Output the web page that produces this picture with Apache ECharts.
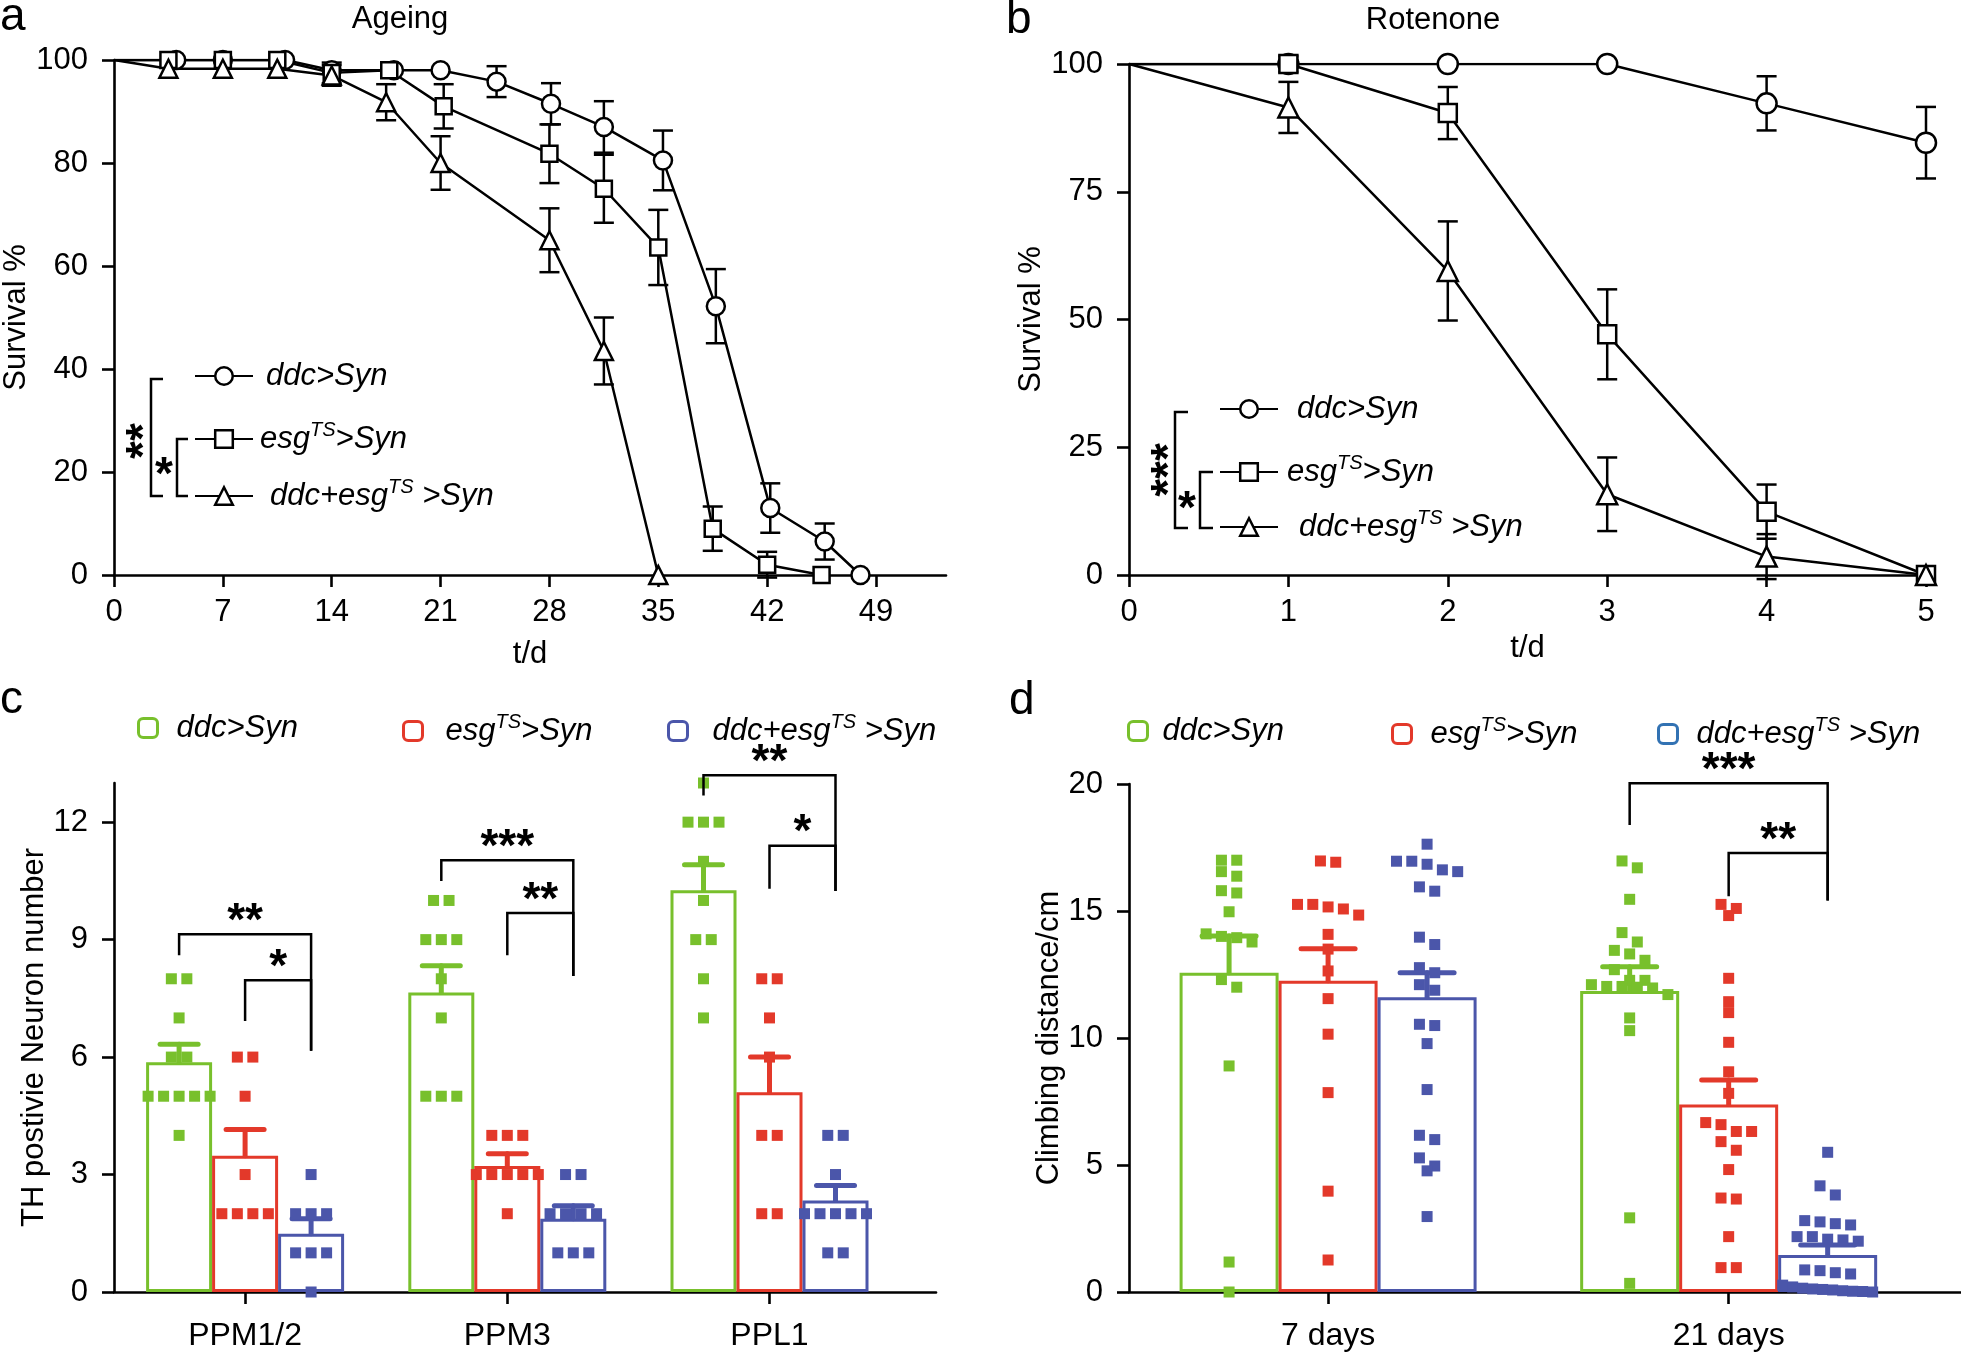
<!DOCTYPE html>
<html><head><meta charset="utf-8">
<script src="https://cdn.jsdelivr.net/npm/echarts@6/dist/echarts.min.js"></script>
<style>html,body{margin:0;padding:0;background:#fff}#chart{width:1961px;height:1352px}</style>
</head><body><div id="chart"></div>
<script>
// ---------------- Panel a: Ageing ----------------
const ageTicks = [0, 7, 14, 21, 28, 35, 42, 49];
const ageDdcT = [0, 4, 7, 11, 14, 18, 21, 24.6, 28.1, 31.5, 35.3, 38.7, 42.2, 45.7, 48];
const ageDdcS = [100, 100, 100, 100, 98, 98, 98, 95.8, 91.5, 87, 80.5, 52.2, 13, 6.5, 0];
const ageDdcE = [0, 0, 0, 0, 0, 0, 0, 3, 4, 5, 5.8, 7.2, 4.8, 3.5, 0];
const ageEsgT = [0, 3.5, 7, 10.5, 14, 17.7, 21.2, 28, 31.5, 35, 38.5, 42, 45.5];
const ageEsgS = [100, 100, 100, 100, 97.5, 98, 91, 81.8, 75, 63.6, 9, 2, 0];
const ageEsgE = [0, 0, 0, 0, 2, 0, 4.3, 5.7, 6.6, 7.3, 4.3, 2.5, 0];
const ageBothT = [0, 3.5, 7, 10.5, 14, 17.5, 21, 28, 31.5, 35];
const ageBothS = [100, 98.3, 98.3, 98.3, 97, 91.8, 80, 65, 43.5, 0];
const ageBothE = [0, 0, 0, 0, 2, 3.5, 5.2, 6.2, 6.5, 0];

// ---------------- Panel b: Rotenone ----------------
const rotDays = [0, 1, 2, 3, 4, 5];
const rotDdcS = [100, 100, 100, 100, 92.3, 84.6];
const rotDdcE = [0, 0, 0, 0, 5.3, 7];
const rotEsgS = [100, 100, 90.4, 47.1, 12.4, 0];
const rotEsgE = [0, 1.5, 5.1, 8.8, 5.3, 0];
const rotBothS = [100, 91.5, 59.5, 15.8, 3.6, 0];
const rotBothE = [0, 5, 9.7, 7.2, 4.4, 0];

// ---------------- Panel c: TH positive neurons ----------------
const thCats = ['PPM1/2', 'PPM3', 'PPL1'];
const thTicks = [0, 3, 6, 9, 12];
const thDdcMean = [5.87, 7.65, 10.26];
const thDdcSem = [0.46, 0.68, 0.65];
const thEsgMean = [3.48, 3.22, 5.1];
const thEsgSem = [0.67, 0.31, 0.9];
const thBothMean = [1.49, 1.87, 2.34];
const thBothSem = [0.38, 0.33, 0.38];
const thDdcDots = [[8, 8, 7, 6, 6, 5, 5, 5, 5, 5, 4], [10, 10, 9, 9, 9, 8, 7, 5, 5, 5], [13, 12, 12, 12, 11, 10, 9, 9, 8, 7]];
const thEsgDots = [[6, 6, 5, 3, 2, 2, 2, 2], [4, 4, 4, 3, 3, 3, 3, 3, 2], [8, 8, 7, 6, 4, 4, 2, 2]];
const thBothDots = [[3, 2, 2, 2, 1, 1, 1, 0], [3, 3, 2, 2, 2, 2, 1, 1, 1], [4, 4, 3, 2, 2, 2, 2, 2, 1, 1]];
// [category, from group, to group, top, left leg end, right leg end]
const thBrackets = [[1, 0, 2, 9.14, 8.6, 6.16], [1, 1, 2, 7.96, 6.92, 6.16], [2, 0, 2, 11.03, 10.5, 8.07], [2, 1, 2, 9.68, 8.6, 8.07], [3, 0, 2, 13.2, 12.68, 10.24], [3, 1, 2, 11.4, 10.3, 10.24]];
const thStars = ['**', '*', '***', '**', '**', '*'];

// ---------------- Panel d: Climbing ----------------
const climbCats = ['7 days', '21 days'];
const climbDdcMean = [12.57, 11.85];
const climbDdcSem = [1.45, 0.96];
const climbEsgMean = [12.25, 7.38];
const climbEsgSem = [1.26, 0.97];
const climbBothMean = [11.6, 1.46];
const climbBothSem = [0.97, 0.39];
const climbDdcDots = [
  [17, 17, 16.55, 16.37, 15.8, 15.71, 14.97, 14.1, 14.0, 13.95, 13.78, 12.3, 12.0, 8.9, 1.18, 0],
  [16.97, 16.7, 15.46, 14.15, 13.78, 13.45, 13.31, 13.06, 12.69, 12.27, 12.27, 12.1, 12.03, 12.03, 12.0, 11.97, 11.71, 10.79, 10.29, 2.92, 0.34]];
const climbEsgDots = [
  [16.97, 16.92, 15.26, 15.26, 15.16, 15.08, 14.84, 14.08, 13.5, 12.64, 11.55, 10.15, 7.85, 3.97, 1.26],
  [15.26, 15.1, 14.82, 12.35, 11.43, 11.0, 9.83, 8.67, 7.82, 6.67, 6.59, 6.32, 6.32, 5.92, 5.58, 4.82, 3.7, 3.66, 2.18, 0.96, 0.96]];
const climbBothDots = [
  [17.63, 16.96, 16.96, 16.84, 16.62, 16.55, 15.95, 15.78, 13.97, 13.68, 12.77, 12.57, 12.1, 11.88, 10.54, 10.49, 9.78, 7.97, 6.17, 6.0, 5.28, 4.96, 4.77, 2.97],
  [5.5, 4.18, 3.82, 2.81, 2.76, 2.69, 2.64, 2.18, 2.18, 2.08, 2.05, 2.0, 0.87, 0.84, 0.76, 0.71, 0.27, 0.2, 0.15, 0.12, 0.1, 0.08, 0.05, 0.03, 0.02, 0]];
const climbBrackets = [[2, 0, 2, 20.03, 18.39, 15.41], [2, 1, 2, 17.28, 15.58, 15.41]];
const climbStars = ['***', '**'];

// ---------------- styling ----------------
const FONT = '"Liberation Sans", Arial, Helvetica, sans-serif';
const GREEN = '#78c02c', RED = '#e3392a', BLUE = '#4b56aa', BLUE_LEG_D = '#3272b3';
const BAR_C = 66, BAR_D = 99;
const AX_W = 2.6;
const TICK_FS = 31, CAT_FS = 32, NAME_FS = 31;

const LABELS = {
  D: '{i|ddc>Syn}',
  E: '{i|esg}{s|TS}{i|>Syn}',
  B: '{i|ddc+esg}{s|TS}{i| >Syn}'
};
function rich(fs) {
  return {
    i: { fontSize: fs, fontStyle: 'italic', fontFamily: FONT, color: '#000', lineHeight: fs + 6 },
    s: { fontSize: Math.round(fs * 0.64), fontStyle: 'italic', fontFamily: FONT, color: '#000', lineHeight: Math.round(fs * 0.64) + 2, verticalAlign: 'top' }
  };
}

function axisBase(gi, extra) {
  return Object.assign({
    gridIndex: gi,
    axisLine: { show: true, onZero: false, lineStyle: { color: '#000', width: AX_W } },
    axisTick: { show: true, length: 12, lineStyle: { color: '#000', width: AX_W } },
    axisLabel: { color: '#000', fontSize: TICK_FS, fontFamily: FONT },
    splitLine: { show: false },
    nameTextStyle: { color: '#000', fontSize: NAME_FS, fontFamily: FONT }
  }, extra);
}

function lineSeries(name, gi, ts, ss, symbol, size) {
  return {
    type: 'line', name, xAxisIndex: gi, yAxisIndex: gi,
    data: ts.map((t, i) => i === 0 ? { value: [t, ss[i]], symbol: 'none' } : [t, ss[i]]),
    symbol, symbolSize: size, showSymbol: true,
    itemStyle: { color: '#fff', borderColor: '#000', borderWidth: 2.5 },
    lineStyle: { color: '#000', width: 2.5 },
    z: 4, animation: false
  };
}
function errSeries(gi, ts, ss, es) {
  const data = [];
  ts.forEach((t, i) => { if (es[i] > 0) data.push([t, ss[i], es[i]]); });
  return {
    type: 'custom', xAxisIndex: gi, yAxisIndex: gi, z: 3, clip: false, data,
    renderItem: (p, api) => {
      const x = api.value(0), y = api.value(1), e = api.value(2);
      const a = api.coord([x, y + e]), b = api.coord([x, y - e]);
      const hw = 10, st = { stroke: '#000', lineWidth: 2.5 };
      return { type: 'group', children: [
        { type: 'line', shape: { x1: a[0], y1: a[1], x2: b[0], y2: b[1] }, style: st },
        { type: 'line', shape: { x1: a[0] - hw, y1: a[1], x2: a[0] + hw, y2: a[1] }, style: st },
        { type: 'line', shape: { x1: b[0] - hw, y1: b[1], x2: b[0] + hw, y2: b[1] }, style: st }
      ] };
    }
  };
}

function barSeries(name, gi, means, color, bw) {
  return {
    type: 'bar', name, xAxisIndex: gi, yAxisIndex: gi,
    data: means.map((m, i) => [i + 1, m]), barWidth: bw, barGap: '0%',
    itemStyle: { color: '#fff', borderColor: color, borderWidth: 3 }, z: 1, animation: false
  };
}
function semSeries(gi, means, sems, k, color, bw, capW) {
  return {
    type: 'custom', xAxisIndex: gi, yAxisIndex: gi, z: 3, clip: false,
    data: means.map((m, i) => [i + 1, m, sems[i]]),
    renderItem: (p, api) => {
      const x = api.value(0), m = api.value(1), s = api.value(2);
      const off = (k - 1) * bw;
      const a = api.coord([x, m]), b = api.coord([x, m + s]);
      const st = { stroke: color, lineWidth: 5, lineCap: 'round' };
      return { type: 'group', children: [
        { type: 'line', shape: { x1: a[0] + off, y1: a[1], x2: b[0] + off, y2: b[1] }, style: st },
        { type: 'line', shape: { x1: b[0] + off - capW / 2, y1: b[1], x2: b[0] + off + capW / 2, y2: b[1] }, style: st }
      ] };
    }
  };
}
function swarmOffsets(vals, thr, sp, maxW) {
  const idx = vals.map((v, i) => i).sort((a, b) => vals[b] - vals[a]);
  const off = new Array(vals.length).fill(0);
  let row = [], start = null;
  const flush = () => {
    const k = row.length; if (!k) return;
    const step = k > 1 ? Math.min(sp, maxW / (k - 1)) : 0;
    row.forEach((ii, j) => { off[ii] = (j - (k - 1) / 2) * step; });
    row = [];
  };
  idx.forEach(i => {
    if (row.length && start - vals[i] >= thr) flush();
    if (!row.length) start = vals[i];
    row.push(i);
  });
  flush();
  return off;
}
function dotSeries(gi, dotsPerCat, k, color, bw, thr, sp, maxW, size) {
  const data = [];
  dotsPerCat.forEach((vals, ci) => {
    const off = swarmOffsets(vals, thr, sp, maxW);
    vals.forEach((v, j) => data.push([ci + 1, v, (k - 1) * bw + off[j]]));
  });
  return {
    type: 'custom', xAxisIndex: gi, yAxisIndex: gi, z: 5, clip: false, data,
    renderItem: (p, api) => {
      const c = api.coord([api.value(0), api.value(1)]);
      return { type: 'rect', shape: { x: c[0] + api.value(2) - size / 2, y: c[1] - size / 2, width: size, height: size }, style: { fill: color } };
    }
  };
}
function bracketSeries(gi, brackets, stars, bw) {
  return {
    type: 'custom', xAxisIndex: gi, yAxisIndex: gi, z: 6, clip: false,
    data: brackets.map((b, i) => b.concat([i])),
    renderItem: (p, api) => {
      const cat = api.value(0), f = api.value(1), t = api.value(2);
      const top = api.value(3), lb = api.value(4), rb = api.value(5), i = api.value(6);
      const pt = api.coord([cat, top]), pl = api.coord([cat, lb]), pr = api.coord([cat, rb]);
      const xl = pt[0] + (f - 1) * bw, xr = pt[0] + (t - 1) * bw;
      return { type: 'group', children: [
        { type: 'polyline', shape: { points: [[xl, pl[1]], [xl, pt[1]], [xr, pt[1]], [xr, pr[1]]] }, style: { stroke: '#000', lineWidth: 2.5, fill: null } },
        { type: 'text', style: { text: stars[i], x: (xl + xr) / 2, y: pt[1] - 12, align: 'center', verticalAlign: 'middle', fontSize: 46, fontWeight: 'bold', fontFamily: FONT, fill: '#000' } }
      ] };
    }
  };
}

function legendItem(name, left, centerY, opts) {
  const fs = opts.fs;
  const lh = fs + 6;
  return Object.assign({
    data: [name], left, top: centerY - lh / 2, orient: 'horizontal', padding: 0,
    selectedMode: false, itemWidth: opts.w, itemHeight: opts.h,
    formatter: n => LABELS[n.slice(-1)],
    textStyle: { rich: rich(fs), padding: [0, 0, 0, opts.pad || 0] },
    itemStyle: Object.assign({ borderWidth: opts.bw }, opts.itemStyle || {})
  }, opts.extra || {});
}

const chart = echarts.init(document.getElementById('chart'), null, { renderer: 'canvas' });

const lineLeg = { fs: 31, w: 58, h: 22, bw: 2.5 };
const barLeg = { fs: 31, w: 19, h: 19, bw: 3 };

const option = {
  animation: false,
  backgroundColor: '#fff',
  grid: [
    { left: 114, top: 60, width: 832, height: 515 },
    { left: 1129, top: 64, width: 797, height: 511 },
    { left: 114, top: 783, width: 822, height: 511 },
    { left: 1129, top: 784, width: 832, height: 510 }
  ],
  xAxis: [
    axisBase(0, { type: 'value', min: 0, max: 53.5, name: 't/d', nameLocation: 'middle', nameGap: 64,
      axisTick: { show: true, length: 12, lineStyle: { color: '#000', width: AX_W }, customValues: ageTicks },
      axisLabel: { color: '#000', fontSize: TICK_FS, fontFamily: FONT, margin: 22, customValues: ageTicks } }),
    axisBase(1, { type: 'value', min: 0, max: 5, interval: 1, name: 't/d', nameLocation: 'middle', nameGap: 58,
      axisLabel: { color: '#000', fontSize: TICK_FS, fontFamily: FONT, margin: 22 } }),
    axisBase(2, { type: 'value', min: 0.5, max: 3.635,
      axisTick: { show: true, length: 12, lineStyle: { color: '#000', width: AX_W }, customValues: [1, 2, 3] },
      axisLabel: { color: '#000', fontSize: CAT_FS, fontFamily: FONT, margin: 28, customValues: [1, 2, 3], formatter: v => thCats[Math.round(v) - 1] || '' } }),
    axisBase(3, { type: 'value', min: 0.503, max: 2.58,
      axisTick: { show: true, length: 12, lineStyle: { color: '#000', width: AX_W }, customValues: [1, 2] },
      axisLabel: { color: '#000', fontSize: CAT_FS, fontFamily: FONT, margin: 28, customValues: [1, 2], formatter: v => climbCats[Math.round(v) - 1] || '' } })
  ],
  yAxis: [
    axisBase(0, { type: 'value', min: 0, max: 100, interval: 20, name: 'Survival %', nameLocation: 'middle', nameGap: 64,
      axisLabel: { color: '#000', fontSize: TICK_FS, fontFamily: FONT, margin: 26 } }),
    axisBase(1, { type: 'value', min: 0, max: 100, interval: 25, name: 'Survival %', nameLocation: 'middle', nameGap: 62,
      axisLabel: { color: '#000', fontSize: TICK_FS, fontFamily: FONT, margin: 26 } }),
    axisBase(2, { type: 'value', min: 0, max: 13, name: 'TH postivie Neuron number', nameLocation: 'middle', nameGap: 64,
      axisTick: { show: true, length: 12, lineStyle: { color: '#000', width: AX_W }, customValues: thTicks },
      axisLabel: { color: '#000', fontSize: TICK_FS, fontFamily: FONT, margin: 26, customValues: thTicks } }),
    axisBase(3, { type: 'value', min: 0, max: 20, interval: 5, name: 'Climbing distance/cm', nameLocation: 'middle', nameGap: 62,
      axisLabel: { color: '#000', fontSize: TICK_FS, fontFamily: FONT, margin: 26 } })
  ],
  legend: [
    legendItem('aD', 194, 379, Object.assign({ pad: 8 }, lineLeg)),
    legendItem('aE', 194, 439, Object.assign({ pad: 2 }, lineLeg)),
    legendItem('aB', 194, 496, Object.assign({ pad: 12 }, lineLeg)),
    legendItem('bD', 1219, 412, Object.assign({ pad: 14 }, lineLeg)),
    legendItem('bE', 1219, 472, Object.assign({ pad: 4 }, lineLeg)),
    legendItem('bB', 1219, 527, Object.assign({ pad: 16 }, lineLeg)),
    legendItem('cD', 137, 731, Object.assign({ pad: 14 }, barLeg)),
    legendItem('cE', 402, 731, Object.assign({ pad: 18 }, barLeg)),
    legendItem('cB', 667, 731, Object.assign({ pad: 20 }, barLeg)),
    legendItem('dD', 1127, 734, Object.assign({ pad: 10 }, barLeg)),
    legendItem('dE', 1391, 734, Object.assign({ pad: 14 }, barLeg)),
    legendItem('dB', 1657, 734, Object.assign({ pad: 14, itemStyle: { borderColor: BLUE_LEG_D } }, barLeg))
  ],
  graphic: [
    { type: 'text', style: { text: 'a', x: 0, y: 17, verticalAlign: 'middle', fontSize: 46, fontFamily: FONT, fill: '#000' } },
    { type: 'text', style: { text: 'b', x: 1006, y: 20, verticalAlign: 'middle', fontSize: 46, fontFamily: FONT, fill: '#000' } },
    { type: 'text', style: { text: 'c', x: 0, y: 700, verticalAlign: 'middle', fontSize: 46, fontFamily: FONT, fill: '#000' } },
    { type: 'text', style: { text: 'd', x: 1009, y: 701, verticalAlign: 'middle', fontSize: 46, fontFamily: FONT, fill: '#000' } },
    { type: 'text', style: { text: 'Ageing', x: 400, y: 19, align: 'center', verticalAlign: 'middle', fontSize: 31, fontFamily: FONT, fill: '#000' } },
    { type: 'text', style: { text: 'Rotenone', x: 1433, y: 20, align: 'center', verticalAlign: 'middle', fontSize: 31, fontFamily: FONT, fill: '#000' } },
    // significance brackets beside legends (a)
    { type: 'polyline', shape: { points: [[163, 379], [151, 379], [151, 496], [163, 496]] }, style: { stroke: '#000', lineWidth: 2.5, fill: null } },
    { type: 'polyline', shape: { points: [[188, 439], [177, 439], [177, 496], [188, 496]] }, style: { stroke: '#000', lineWidth: 2.5, fill: null } },
    { type: 'text', x: 145, y: 441, rotation: Math.PI / 2, style: { text: '**', align: 'center', verticalAlign: 'middle', fontSize: 46, fontWeight: 'bold', fontFamily: FONT, fill: '#000' } },
    { type: 'text', x: 164, y: 476, style: { text: '*', align: 'center', verticalAlign: 'middle', fontSize: 46, fontWeight: 'bold', fontFamily: FONT, fill: '#000' } },
    // significance brackets beside legends (b)
    { type: 'polyline', shape: { points: [[1188, 412], [1175, 412], [1175, 528], [1188, 528]] }, style: { stroke: '#000', lineWidth: 2.5, fill: null } },
    { type: 'polyline', shape: { points: [[1213, 472], [1200, 472], [1200, 528], [1213, 528]] }, style: { stroke: '#000', lineWidth: 2.5, fill: null } },
    { type: 'text', x: 1170, y: 470, rotation: Math.PI / 2, style: { text: '***', align: 'center', verticalAlign: 'middle', fontSize: 46, fontWeight: 'bold', fontFamily: FONT, fill: '#000' } },
    { type: 'text', x: 1187, y: 510, style: { text: '*', align: 'center', verticalAlign: 'middle', fontSize: 46, fontWeight: 'bold', fontFamily: FONT, fill: '#000' } }
  ],
  series: [
    errSeries(0, ageDdcT, ageDdcS, ageDdcE),
    errSeries(0, ageEsgT, ageEsgS, ageEsgE),
    errSeries(0, ageBothT, ageBothS, ageBothE),
    lineSeries('aD', 0, ageDdcT, ageDdcS, 'circle', 18),
    lineSeries('aE', 0, ageEsgT, ageEsgS, 'rect', 16),
    lineSeries('aB', 0, ageBothT, ageBothS, 'triangle', 18),

    errSeries(1, rotDays, rotDdcS, rotDdcE),
    errSeries(1, rotDays, rotEsgS, rotEsgE),
    errSeries(1, rotDays, rotBothS, rotBothE),
    lineSeries('bD', 1, rotDays, rotDdcS, 'circle', 20),
    lineSeries('bE', 1, rotDays, rotEsgS, 'rect', 18),
    lineSeries('bB', 1, rotDays, rotBothS, 'triangle', 20),

    barSeries('cD', 2, thDdcMean, GREEN, BAR_C),
    barSeries('cE', 2, thEsgMean, RED, BAR_C),
    barSeries('cB', 2, thBothMean, BLUE, BAR_C),
    semSeries(2, thDdcMean, thDdcSem, 0, GREEN, BAR_C, 38),
    semSeries(2, thEsgMean, thEsgSem, 1, RED, BAR_C, 38),
    semSeries(2, thBothMean, thBothSem, 2, BLUE, BAR_C, 38),
    dotSeries(2, thDdcDots, 0, GREEN, BAR_C, 0.5, 15.5, 62, 11),
    dotSeries(2, thEsgDots, 1, RED, BAR_C, 0.5, 15.5, 62, 11),
    dotSeries(2, thBothDots, 2, BLUE, BAR_C, 0.5, 15.5, 62, 11),
    bracketSeries(2, thBrackets, thStars, BAR_C),

    barSeries('dD', 3, climbDdcMean, GREEN, BAR_D),
    barSeries('dE', 3, climbEsgMean, RED, BAR_D),
    barSeries('dB', 3, climbBothMean, BLUE, BAR_D),
    semSeries(3, climbDdcMean, climbDdcSem, 0, GREEN, BAR_D, 54),
    semSeries(3, climbEsgMean, climbEsgSem, 1, RED, BAR_D, 54),
    semSeries(3, climbBothMean, climbBothSem, 2, BLUE, BAR_D, 54),
    dotSeries(3, climbDdcDots, 0, GREEN, BAR_D, 0.42, 15.3, 90, 11),
    dotSeries(3, climbEsgDots, 1, RED, BAR_D, 0.42, 15.3, 90, 11),
    dotSeries(3, climbBothDots, 2, BLUE, BAR_D, 0.42, 15.3, 90, 11),
    bracketSeries(3, climbBrackets, climbStars, BAR_D)
  ]
};
chart.setOption(option);
</script></body></html>
